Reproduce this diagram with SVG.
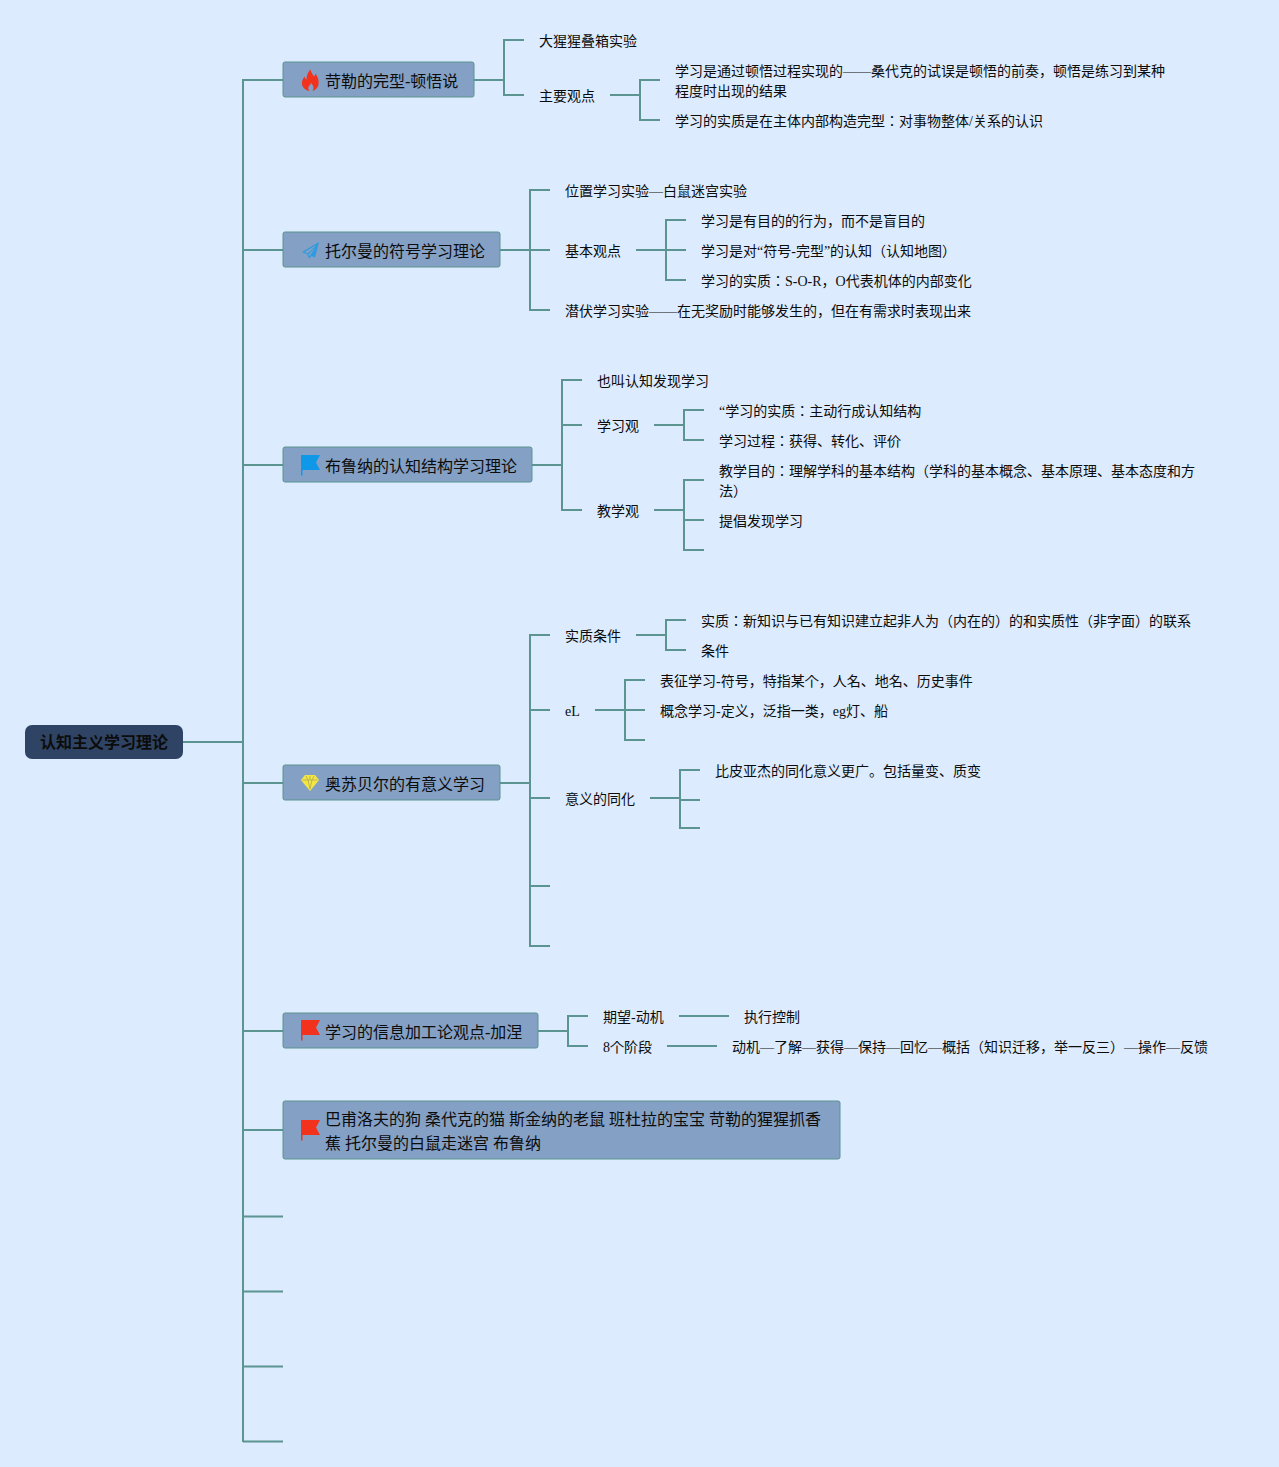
<svg xmlns="http://www.w3.org/2000/svg" width="1279" height="1467" viewBox="0 0 1279 1467">
<style>
text{font-family:"Liberation Serif","Noto Sans CJK JP",serif;fill:#0c0c0c}
.t{font-size:14px}
.m{font-size:16px}
.r{font-size:16px;font-weight:bold}
.b{fill:#84a0c4;stroke:#5b9490;stroke-width:1}
#connectors path{fill:none;stroke:#5b9490;stroke-width:2}
</style>
<defs>
<path id="flag" d="M0 0H19L15 7.500L19 15H1.500V20.500H0Z"/>
</defs>
<rect width="1279" height="1467" fill="#dcebfd"/>
<g id="connectors">
<path d="M183 742H243M243 79V1442M242 80H283M243 250H283M243 465H283M243 783H283M243 1031H283M243 1130H283M243 1216.500H283M243 1291.500H283M243 1366.500H283M243 1441.500H283"/>
<path d="M474 80H504M504 39V96M503 40H524M503 95H524M610 95H640M640 79V121M639 80H660M639 120H660"/>
<path d="M500 250H530M530 189V311M529 190H550M530 250H550M529 310H550M636 250H666M666 219V281M665 220H686M666 250H686M665 280H686"/>
<path d="M532 465H562M562 379V511M561 380H582M562 425H582M561 510H582M654 425H684M684 409V441M683 410H704M683 440H704M654 510H684M684 479V551M683 480H704M684 520H704M683 550H704"/>
<path d="M500 783H530M530 634V947M529 635H550M530 710H550M530 798H550M530 886H550M529 946H550M636 635H666M666 619V651M665 620H686M665 650H686M595 710H625M625 679V741M624 680H645M625 710H645M624 740H645M650 798H680M680 769V829M679 770H700M680 800H700M679 828H700"/>
<path d="M538 1031H568M568 1015V1047M567 1016H588M567 1046H588M679 1016H729M667 1046H717"/>
</g>
<g id="root"><rect x="25" y="725" width="158" height="34" rx="7" fill="#2f4464"/><text class="r" x="40" y="748">认知主义学习理论</text></g>
<g id="n1"><rect class="b" x="283" y="62" width="191" height="35" rx="2"/>
<path d="M310.500 69.500C311 73 313 74.500 314 76.500C315 75.500 315.500 74.500 315.500 73.500C318 77 319 80.500 318.500 84C318 88 315 90.500 312.500 91C314 89 314 86 311 83C310.500 85 309 85.500 308.500 87C308 88.500 308.500 90 309.500 91C306 90.500 302.500 88 302 84C301.500 80.500 303.500 78.500 304.500 76.500C305 78 305.500 79 306.500 79.500C306.500 75.500 308 72 310.500 69.500Z" fill="#f2321c"/>
<text class="m" x="325" y="87">苛勒的完型-顿悟说</text></g>
<g id="n2"><rect class="b" x="283" y="232" width="217" height="35" rx="2"/>
<path d="M319 242L302 252L307.500 254.500L309 258.500L311.500 256L315 257.500ZM316.500 245L304.500 252L307.800 253.400ZM309 256.200L308.800 254.300L315.500 247L310.500 255Z" fill="#2e9be0" fill-rule="evenodd"/>
<text class="m" x="325" y="257">托尔曼的符号学习理论</text></g>
<g id="n3"><rect class="b" x="283" y="447" width="249" height="35" rx="2"/>
<use href="#flag" x="301" y="455" fill="#0f97e8"/>
<text class="m" x="325" y="472">布鲁纳的认知结构学习理论</text></g>
<g id="n4"><rect class="b" x="283" y="765" width="217" height="35" rx="2"/>
<path d="M305 775H315L319 780L310 791L301 780Z" fill="#f5e642"/>
<path d="M302.500 780H317.500M306 776L308 780L310 789L312 780L314 776M310 776V780" fill="none" stroke="#a9ab5a" stroke-width="0.800"/>
<text class="m" x="325" y="790">奥苏贝尔的有意义学习</text></g>
<g id="n5"><rect class="b" x="283" y="1013" width="255" height="35" rx="2"/>
<use href="#flag" x="301" y="1020" fill="#f2321c"/>
<text class="m" x="325" y="1038">学习的信息加工论观点-加涅</text></g>
<g id="n6"><rect class="b" x="283" y="1101" width="557" height="58" rx="2"/>
<use href="#flag" x="301" y="1120" fill="#f2321c"/>
<text class="m" x="325" y="1125">巴甫洛夫的狗 桑代克的猫 斯金纳的老鼠 班杜拉的宝宝 苛勒的猩猩抓香</text>
<text class="m" x="325" y="1149">蕉 托尔曼的白鼠走迷宫 布鲁纳</text></g>
<g id="leaves">
<text class="t" x="539" y="46">大猩猩叠箱实验</text>
<text class="t" x="539" y="101">主要观点</text>
<text class="t" x="675" y="76">学习是通过顿悟过程实现的——桑代克的试误是顿悟的前奏，顿悟是练习到某种</text>
<text class="t" x="675" y="96">程度时出现的结果</text>
<text class="t" x="675" y="126">学习的实质是在主体内部构造完型：对事物整体/关系的认识</text>
<text class="t" x="565" y="196">位置学习实验—白鼠迷宫实验</text>
<text class="t" x="565" y="256">基本观点</text>
<text class="t" x="565" y="316">潜伏学习实验——在无奖励时能够发生的，但在有需求时表现出来</text>
<text class="t" x="701" y="226">学习是有目的的行为，而不是盲目的</text>
<text class="t" x="701" y="256">学习是对“符号-完型”的认知（认知地图）</text>
<text class="t" x="701" y="286">学习的实质：S-O-R，O代表机体的内部变化</text>
<text class="t" x="597" y="386">也叫认知发现学习</text>
<text class="t" x="597" y="431">学习观</text>
<text class="t" x="597" y="516">教学观</text>
<text class="t" x="719" y="416">“学习的实质：主动行成认知结构</text>
<text class="t" x="719" y="446">学习过程：获得、转化、评价</text>
<text class="t" x="719" y="476">教学目的：理解学科的基本结构（学科的基本概念、基本原理、基本态度和方</text>
<text class="t" x="719" y="496">法）</text>
<text class="t" x="719" y="526">提倡发现学习</text>
<text class="t" x="565" y="641">实质条件</text>
<text class="t" x="565" y="716">eL</text>
<text class="t" x="565" y="804">意义的同化</text>
<text class="t" x="701" y="626">实质：新知识与已有知识建立起非人为（内在的）的和实质性（非字面）的联系</text>
<text class="t" x="701" y="656">条件</text>
<text class="t" x="660" y="686">表征学习-符号，特指某个，人名、地名、历史事件</text>
<text class="t" x="660" y="716">概念学习-定义，泛指一类，eg灯、船</text>
<text class="t" x="715" y="776">比皮亚杰的同化意义更广。包括量变、质变</text>
<text class="t" x="603" y="1022">期望-动机</text>
<text class="t" x="603" y="1052">8个阶段</text>
<text class="t" x="744" y="1022">执行控制</text>
<text class="t" x="732" y="1052">动机—了解—获得—保持—回忆—概括（知识迁移，举一反三）—操作—反馈</text>
</g>
</svg>
